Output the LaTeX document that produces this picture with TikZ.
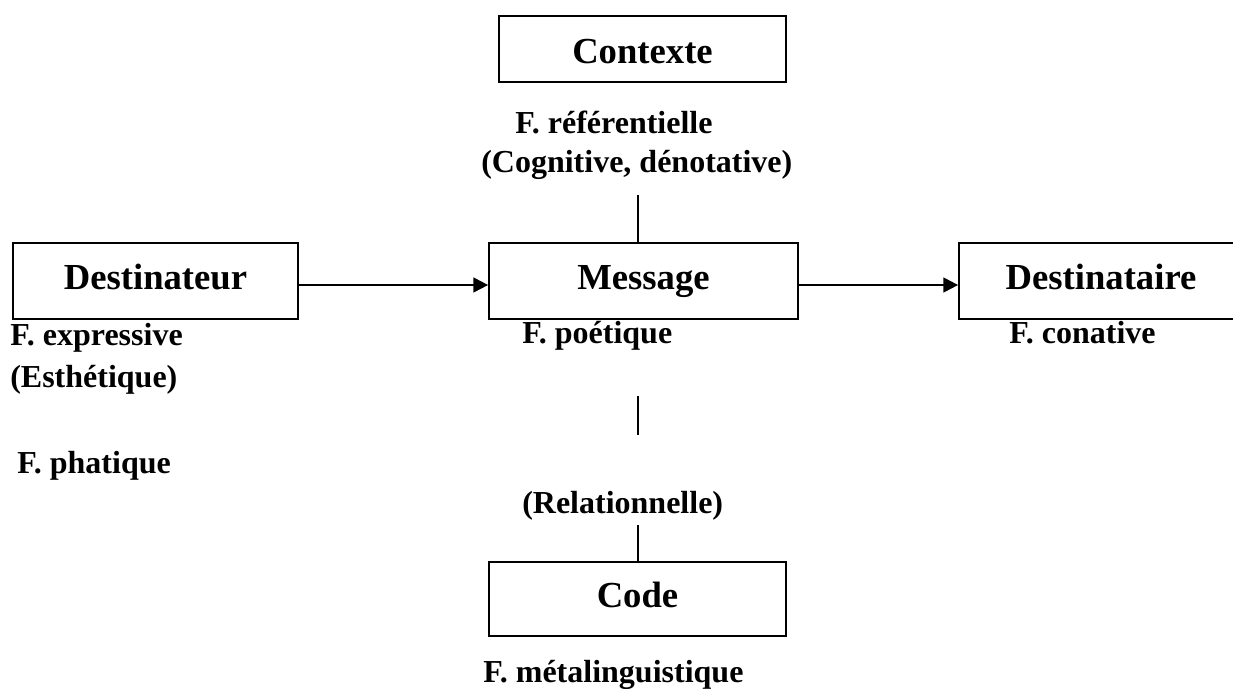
\documentclass[tikz,border=0pt]{standalone}
\usepackage{fontspec}
\setmainfont{Liberation Serif}
\usetikzlibrary{shapes}
\usetikzlibrary{arrows.meta}

\begin{document}
\begin{tikzpicture}[x=0.75pt,y=-0.75pt,
	box/.style={draw,line width=1.3pt,inner sep=0pt,text height=18pt,text depth=6pt,font=\fontsize{27.5}{33}\selectfont\bfseries},
	lbl/.style={inner sep=0pt,anchor=base west,font=\fontsize{24}{29}\selectfont\bfseries},
	link/.style={line width=1.2pt},
	flow/.style={line width=1.5pt,-{Triangle[length=11pt,width=11pt]}}
	]
	\useasboundingbox (0,0) rectangle (1233,689);
	\clip (0,0) rectangle (1233,689);
	\node[box,minimum width=287*0.75pt,minimum height=66*0.75pt,text height=24pt,text depth=3pt](ctx) at (642.5,49){Contexte};
	\node[box,minimum width=285*0.75pt,minimum height=76*0.75pt](dstr) at (155.5,281){Destinateur};
	\node[box,minimum width=309*0.75pt,minimum height=76*0.75pt](msg) at (643.5,281){Message};
	\node[box,minimum width=284*0.75pt,minimum height=76*0.75pt](dsta) at (1101,281){Destinataire};
	\node[box,minimum width=297*0.75pt,minimum height=74*0.75pt](code) at (637.5,599){Code};
	\node[lbl](fref) at (515,133){F. référentielle};
	\node[lbl](fcog) at (481,172){(Cognitive, dénotative)};
	\node[lbl](fexp) at (10,345){F. expressive};
	\node[lbl](fest) at (10,387){(Esthétique)};
	\node[lbl](fpha) at (17,473){F. phatique};
	\node[lbl](fpoe) at (522,343){F. poétique};
	\node[lbl](frel) at (522,513){(Relationnelle)};
	\node[lbl](fcon) at (1009,343){F. conative};
	\node[lbl](fmet) at (483,682){F. métalinguistique};
	\coordinate (reftop) at (638,195);
	\coordinate (midtop) at (638,396);
	\coordinate (midbot) at (638,435);
	\coordinate (codetop) at (638,525);
	\draw[link] (reftop) -- (reftop |- msg.north);
	\draw[link] (midtop) -- (midbot);
	\draw[link] (codetop) -- (codetop |- code.north);
	\draw[flow] ([yshift=-3pt]dstr.east) -- ([yshift=-3pt]msg.west);
	\draw[flow] ([yshift=-3pt]msg.east) -- ([yshift=-3pt]dsta.west);
\end{tikzpicture}
\end{document}
